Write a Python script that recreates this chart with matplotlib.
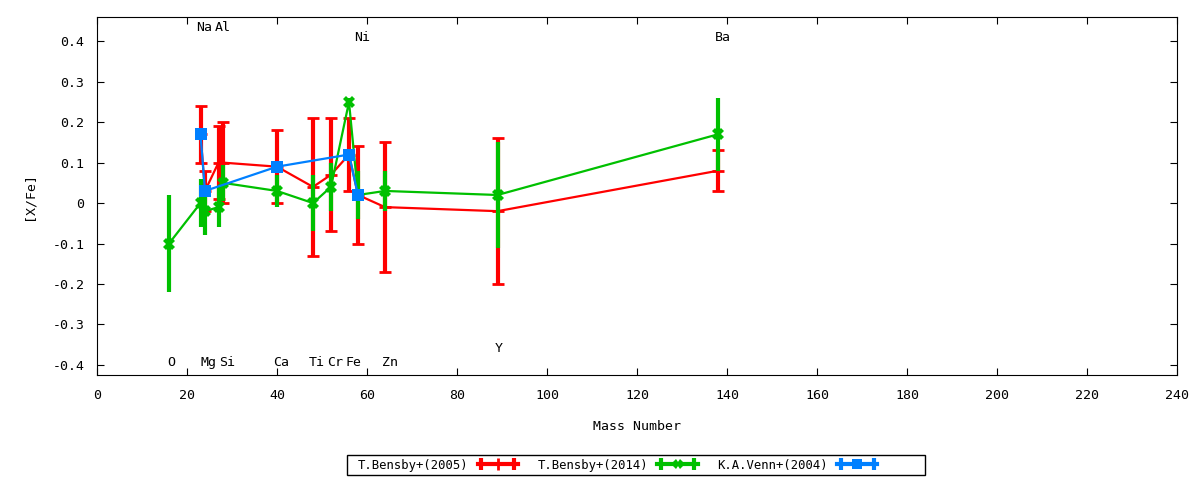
import numpy as np
import matplotlib
matplotlib.use('Agg')
import matplotlib.pyplot as plt
from matplotlib.lines import Line2D
from matplotlib.patches import Rectangle
from matplotlib.legend_handler import HandlerLine2D, HandlerTuple
from matplotlib.ticker import FormatStrFormatter, MultipleLocator

plt.rcParams['font.family'] = ['DejaVu Sans Mono']
plt.rcParams['font.size'] = 9.5

# ~~~~~~~~~~~~~~~~~~~~~~~~~~~~~~~~~~~~~~~~~~~~~~~~~~~~~~~~~~~~~~~~~~~~~~~~~~~~~~~~~~~~~~~~

# T.Bensby+(2005): Na Mg Al Si Ca Ti Cr Fe Ni Zn Y Ba
mass_b05 = [23, 24, 27, 28, 40, 48, 52, 56, 58, 64, 89, 138]
xfe_b05 = [0.17, 0.03, 0.10, 0.10, 0.09, 0.04, 0.07, 0.12, 0.02, -0.01, -0.02, 0.08]
err_b05 = [0.07, 0.05, 0.09, 0.10, 0.09, 0.17, 0.14, 0.09, 0.12, 0.16, 0.18, 0.05]

# T.Bensby+(2014): O Na Mg Al Si Ca Ti Cr Fe Ni Zn Y Ba
mass_b14 = [16, 23, 24, 27, 28, 40, 48, 52, 56, 58, 64, 89, 138]
xfe_b14 = [-0.10, 0.00, -0.02, -0.01, 0.05, 0.03, 0.00, 0.04, 0.25, 0.02, 0.03, 0.02, 0.17]
err_b14 = [0.12, 0.06, 0.06, 0.05, 0.045, 0.04, 0.07, 0.06, 0.01, 0.06, 0.05, 0.13, 0.09]

# K.A.Venn+(2004): Na Mg Ca Fe Ni
mass_v04 = [23, 24, 40, 56, 58]
xfe_v04 = [0.17, 0.03, 0.09, 0.12, 0.02]
err_v04 = [0.0, 0.0, 0.0, 0.0, 0.0]

# element labels: name, x, y
elem_names = ['Na', 'Al', 'Ni', 'Ba', 'O', 'Mg', 'Si', 'Ca', 'Ti', 'Cr', 'Fe', 'Zn', 'Y']
elem_x = [23.8, 28.0, 59.0, 139.0, 16.4, 24.8, 29.0, 41.0, 48.8, 52.9, 57.0, 65.1, 89.3]
elem_y = [0.435, 0.435, 0.41, 0.41, -0.395, -0.395, -0.395, -0.395, -0.395, -0.395, -0.395, -0.395, -0.36]

# ~~~~~~~~~~~~~~~~~~~~~~~~~~~~~~~~~~~~~~~~~~~~~~~~~~~~~~~~~~~~~~~~~~~~~~~~~~~~~~~~~~~~~~~~

fig = plt.figure(figsize=(12, 4.8), dpi=100)
ax = fig.add_axes([97/1200, 1 - 375/480, 1080/1200, 358/480])

series = [
    (mass_b05, xfe_b05, err_b05, '#ff0000', '+', 9, 2, 'T.Bensby+(2005)'),
    (mass_b14, xfe_b14, err_b14, '#00c000', 'X', 8, 0, 'T.Bensby+(2014)'),
    (mass_v04, xfe_v04, err_v04, '#0080ff', 's', 8, 0, 'K.A.Venn+(2004)'),
]

handles = []
labels = []
hmap = {}
for z, (mx, vals, errs, col, mk, ms, mew, lab) in enumerate(series):
    ax.errorbar(mx, vals, yerr=errs, color=col, lw=1.6, elinewidth=3,
                capsize=4, capthick=3, marker=mk, ms=ms, mew=mew, zorder=2 + z)
    # gnuplot-style key sample: thick bar with end caps and centre point
    bar = Line2D([], [], color=col, lw=3, marker=mk, ms=ms - 1, mew=mew)
    caps = Line2D([], [], color=col, lw=0, marker='|', ms=8, mew=3)
    hmap[caps] = HandlerLine2D(numpoints=2)
    handles.append((bar, caps))
    labels.append(lab)
hmap[tuple] = HandlerTuple(ndivide=1, pad=0)

for name, x, y in zip(elem_names, elem_x, elem_y):
    ax.text(x, y, name, ha='center', va='center')

ax.set_xlim(0, 240)
ax.set_ylim(-0.425, 0.46)
ax.xaxis.set_major_locator(MultipleLocator(20))
ax.yaxis.set_major_locator(MultipleLocator(0.1))
ax.yaxis.set_major_formatter(FormatStrFormatter('%g'))
ax.tick_params(direction='in', top=True, right=True, length=5, width=0.8)
ax.tick_params(axis='x', pad=10)
ax.tick_params(axis='y', pad=9)
ax.set_xlabel('Mass Number', labelpad=13)
ax.set_ylabel('[X/Fe]', labelpad=12)

leg = fig.legend(handles, labels, handler_map=hmap, loc='center left',
                 bbox_to_anchor=(358/1200, 1 - 465/480), ncol=3,
                 markerfirst=False, frameon=False, handlelength=3.3,
                 columnspacing=1.6, borderpad=0, borderaxespad=0,
                 handletextpad=0.75, fontsize=8.8)

# key box, wider on the right as gnuplot draws it
fig.patches.append(Rectangle((347/1200, 1 - 475/480), 578/1200, 20/480,
                             transform=fig.transFigure, fill=False,
                             edgecolor='black', lw=1.0))

fig.savefig('out.png', dpi=100)
